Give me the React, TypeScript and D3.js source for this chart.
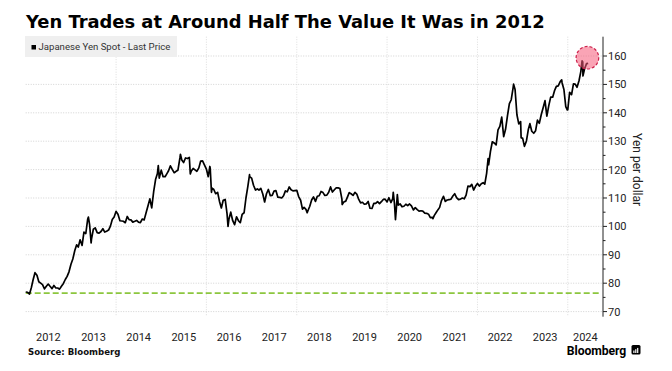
import * as d3 from 'd3';

// semi-monthly closes (1st and 16th of each month)
const years = [2012, 2013, 2014, 2015, 2016, 2017, 2018, 2019, 2020, 2021, 2022, 2023, 2024];
const y2012 = [76.9, 76.8, 76.2, 78.5, 81.2, 83.7, 82.8, 80.5, 80.0, 79.5, 78.0, 78.9, 79.7, 78.9, 78.1, 79.2, 78.3, 78.3, 77.9, 78.9, 79.9, 81.3, 82.4, 84.0];
const y2013 = [86.7, 88.5, 91.5, 93.5, 92.7, 95.3, 93.3, 98.0, 97.5, 102.5, 100.5, 95.5, 99.0, 99.5, 97.8, 97.6, 98.2, 99.2, 98.0, 98.3, 98.7, 100.1, 102.4, 103.3];
const y2014 = [105.3, 104.3, 102.0, 101.9, 101.8, 101.3, 103.5, 102.4, 102.3, 101.5, 101.8, 102.1, 101.5, 101.3, 102.6, 102.3, 104.9, 107.3, 109.7, 106.5, 112.3, 116.5, 118.6, 117.0];
const y2015 = [119.8, 117.5, 117.5, 118.6, 119.6, 121.3, 120.0, 118.9, 119.4, 119.8, 124.1, 123.4, 122.5, 124.1, 123.9, 124.3, 119.5, 120.4, 119.9, 119.4, 120.6, 123.0, 123.1, 121.7];
const y2016 = [120.2, 117.5, 120.5, 113.5, 113.0, 111.5, 112.0, 108.8, 106.5, 109.2, 109.5, 104.5, 102.5, 105.0, 102.0, 100.6, 103.4, 102.0, 101.3, 104.2, 104.8, 110.0, 114.0, 117.5];
const y2017 = [117.0, 114.5, 112.8, 113.2, 112.8, 113.4, 111.4, 108.6, 111.5, 113.0, 110.8, 110.9, 112.4, 112.6, 110.3, 110.2, 110.0, 110.8, 112.5, 112.2, 113.9, 112.9, 112.5, 112.6];
const y2018 = [112.7, 110.5, 109.2, 106.1, 106.7, 106.0, 105.5, 107.1, 109.3, 110.4, 108.8, 110.6, 110.8, 112.3, 111.9, 110.9, 111.0, 112.0, 113.9, 112.1, 112.9, 113.6, 113.6, 113.3];
const y2019 = [109.6, 108.6, 108.9, 110.5, 111.9, 111.5, 110.9, 112.0, 111.4, 109.6, 108.3, 108.5, 107.8, 107.9, 108.8, 106.4, 106.3, 108.1, 108.1, 108.7, 108.0, 108.7, 109.5, 109.6];
const y2020 = [108.6, 110.1, 108.4, 109.8, 107.9, 106.2, 107.5, 107.9, 106.9, 107.1, 107.8, 107.3, 107.9, 107.2, 105.8, 106.6, 105.9, 105.4, 105.5, 105.4, 104.7, 104.6, 104.3, 103.1];
const y2021 = [103.2, 103.8, 104.9, 105.9, 106.7, 109.1, 110.6, 108.8, 109.3, 109.4, 109.6, 110.7, 111.5, 110.1, 109.4, 109.6, 110.0, 109.7, 111.0, 114.2, 114.0, 114.8, 112.8, 114.1];
const y2022 = [115.1, 114.2, 115.0, 115.4, 114.9, 118.7, 121.7, 126.4, 129.8, 129.4, 128.7, 134.0, 135.2, 138.5, 131.6, 134.2, 139.1, 143.2, 144.6, 148.8, 148.2, 139.3, 136.1, 136.9];
const y2023 = [131.1, 128.2, 130.1, 134.1, 136.2, 133.5, 132.8, 133.7, 137.4, 136.3, 139.4, 141.8, 144.3, 138.8, 142.6, 145.5, 145.5, 147.8, 149.3, 149.5, 151.0, 150.6, 148.2, 142.2];
const y2024 = [141.0, 147.2, 146.4, 150.2, 150.1, 149.0, 151.3, 154.6, 157.9, 155.5, 157.3];
const yearValues = [y2012, y2013, y2014, y2015, y2016, y2017, y2018, y2019, y2020, y2021, y2022, y2023, y2024];

// daily extremes that the semi-monthly grid misses
const extraDates = ['2013-05-22', '2013-06-13', '2014-12-08', '2015-06-05', '2015-08-24', '2016-01-29', '2016-02-11', '2016-06-24', '2016-12-15', '2018-03-26', '2019-01-03', '2020-02-20', '2020-03-09', '2020-03-24', '2021-01-06', '2022-03-28', '2022-10-20', '2022-12-20', '2023-11-13', '2023-12-28', '2024-04-26', '2024-05-03', '2024-06-14'];
const extraValues = [103.3, 94.2, 121.4, 125.4, 118.5, 121.1, 112.0, 100.0, 118.2, 104.8, 107.7, 112.0, 102.4, 111.2, 102.7, 123.9, 150.1, 131.2, 151.6, 141.0, 158.3, 153.0, 157.4];

const yTicks = [70, 80, 90, 100, 110, 120, 130, 140, 150, 160];
const gridYears = [2014, 2016, 2018, 2020, 2022, 2024];
const baseline2012 = 76.5;
const highlightDate = '2024-06-08';
const highlightValue = 159.4;

const title = 'Yen Trades at Around Half The Value It Was in 2012';
const legendLabel = 'Japanese Yen Spot - Last Price';
const axisTitle = 'Yen per dollar';

type Pt = { date: Date; value: number };

const parse = d3.timeParse('%Y-%m-%d');

const series: Pt[] = [];
years.forEach((yr, k) => {
  yearValues[k].forEach((v, i) => {
    series.push({ date: new Date(yr, Math.floor(i / 2), i % 2 ? 16 : 1), value: v });
  });
});
extraDates.forEach((d, i) => series.push({ date: parse(d) as Date, value: extraValues[i] }));
series.sort((a, b) => +a.date - +b.date);

export default function App() {
  const width = 672;
  const height = 371;
  const left = 25.7;
  const right = 603;
  const top = 36.7;
  const bottom = 316.7;

  const x = d3.scaleTime()
    .domain([new Date(2012, 0, 1), new Date(2024, 9, 12)])
    .range([left, right]);
  const y = d3.scaleLinear().domain([68.2, 166.8]).range([bottom, top]);

  const line = d3.line<Pt>()
    .x(d => x(d.date))
    .y(d => y(d.value));

  const minorTicks = d3.range(75, 165, 10);
  const fontSans = 'Roboto, "Liberation Sans", sans-serif';

  return (
    <svg width={width} height={height} style={{ position: 'absolute', left: 0, top: 0, background: '#fff' }}>
      <text x={26} y={28.3} fontFamily='"DejaVu Sans", sans-serif' fontWeight={700} fontSize={17.9} fill="#000">
        {title}
      </text>

      {/* grid */}
      {yTicks.map(t => (
        <line key={'h' + t} x1={left} x2={right} y1={y(t)} y2={y(t)}
          stroke="#c8c8c8" strokeWidth={0.8} strokeDasharray="1,1.5" />
      ))}
      {gridYears.map(yr => (
        <line key={'v' + yr} x1={x(new Date(yr, 0, 1))} x2={x(new Date(yr, 0, 1))} y1={top} y2={bottom}
          stroke="#d4d4d4" strokeWidth={0.8} strokeDasharray="1,1.5" />
      ))}

      {/* legend */}
      <rect x={25} y={36} width={152} height={21} fill="#efefef" />
      <rect x={31.5} y={45} width={4.5} height={4.5} fill="#000" />
      <text x={38.5} y={50.3} fontFamily={fontSans} fontSize={9.6} fill="#333">{legendLabel}</text>

      {/* 2012 level */}
      <line x1={left} x2={599} y1={y(baseline2012)} y2={y(baseline2012)}
        stroke="#8cc63e" strokeWidth={1.6} strokeDasharray="6,3" />

      <path d={line(series) ?? ''} fill="none" stroke="#000" strokeWidth={1.7} strokeLinejoin="round" />

      <circle cx={x(parse(highlightDate) as Date)} cy={y(highlightValue)} r={11.3}
        fill="rgba(245, 90, 120, 0.55)" stroke="#cc1f4a" strokeWidth={1.2} strokeDasharray="3,2" />

      {/* right axis */}
      <line x1={right} x2={right} y1={top} y2={bottom} stroke="#222" strokeWidth={1} />
      {yTicks.map(t => (
        <g key={'t' + t}>
          <line x1={right} x2={right + 4} y1={y(t)} y2={y(t)} stroke="#222" strokeWidth={1} />
          <text x={right + 5} y={y(t)} dy="0.36em" fontFamily={fontSans} fontSize={11} fill="#222">{t}</text>
        </g>
      ))}
      {minorTicks.map(t => (
        <line key={'m' + t} x1={right} x2={right + 2.5} y1={y(t)} y2={y(t)} stroke="#222" strokeWidth={1} />
      ))}
      <text transform={`translate(${633},${y(120)}) rotate(90)`} textAnchor="middle"
        fontFamily={fontSans} fontSize={12} fill="#222">{axisTitle}</text>

      {/* year labels */}
      {years.map(yr => {
        const a = x(new Date(yr, 0, 1));
        const b = Math.min(x(new Date(yr + 1, 0, 1)), right);
        return (
          <text key={'y' + yr} x={(a + b) / 2} y={340.8} textAnchor="middle"
            fontFamily={fontSans} fontSize={11} fill="#222">{yr}</text>
        );
      })}

      <text x={28} y={354.5} fontFamily='"DejaVu Sans", sans-serif' fontWeight={700} fontSize={8.6} fill="#111">
        Source:  Bloomberg
      </text>
      <text x={626} y={354.5} textAnchor="end" fontFamily={fontSans} fontWeight={700} fontSize={12.2} fill="#000"
        letterSpacing={-0.1}>Bloomberg</text>
      <rect x={631.5} y={345} width={9} height={9.5} rx={1.5} fill="#000" />
      {[0, 1, 2].map(i => (
        <rect key={'b' + i} x={633.3 + i * 1.9} y={350.5 - i * 1.3} width={1.2} height={2.5 + i * 1.3} fill="#fff" />
      ))}
    </svg>
  );
}
